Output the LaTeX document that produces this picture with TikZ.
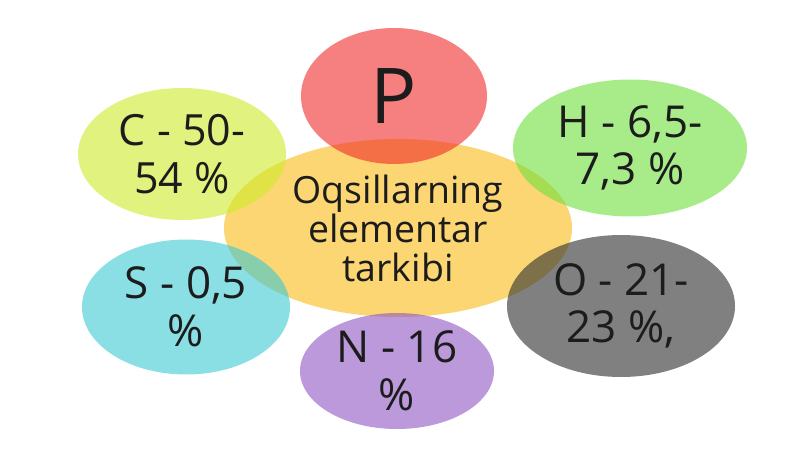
\documentclass[tikz,border=0pt]{standalone}
\usepackage{fontspec}
\setmainfont{Open Sans}
\usetikzlibrary{shapes.geometric}
\definecolor{cyel}{RGB}{251,214,114}
\definecolor{cred}{RGB}{240,42,42}
\definecolor{clime}{RGB}{205,236,40}
\definecolor{cgreen}{RGB}{110,224,60}
\definecolor{ccyan}{RGB}{60,202,212}
\definecolor{cgray}{RGB}{44,44,44}
\definecolor{cpurple}{RGB}{142,85,196}
\definecolor{ctext}{RGB}{28,28,28}
\begin{document}
\begin{tikzpicture}[x=1pt,y=-1pt,
  blob/.style={ellipse,inner sep=0pt,draw=none,fill opacity=0.6},
  lbl/.style={inner sep=0pt,align=center,text=ctext,font=\fontsize{44}{47.5}\selectfont},
  midlbl/.style={lbl,font=\fontsize{37.5}{39}\selectfont}]
\useasboundingbox[fill=white] (0,0) rectangle (800,449);
\node[blob,fill=cyel,fill opacity=1,minimum width=348pt,minimum height=178pt] (center) at (398,228) {};
\node[blob,fill=cred,minimum width=186pt,minimum height=136pt] (p) at (394,96) {};
\node[blob,fill=clime,minimum width=208pt,minimum height=132pt] (c) at (182,154) {};
\node[blob,fill=cgreen,minimum width=234pt,minimum height=137pt] (h) at (630,148) {};
\node[blob,fill=ccyan,minimum width=208pt,minimum height=135pt] (s) at (186,307) {};
\node[blob,fill=cgray,minimum width=228pt,minimum height=142pt] (o) at (621,306) {};
\node[blob,fill=cpurple,minimum width=194pt,minimum height=116pt] (n) at (397,371) {};
\node[midlbl] (centert) at (center) {Oqsillarning\\elementar\\tarkibi};
\node[lbl,font=\fontsize{77}{80}\selectfont] (pt) at (p) {P};
\node[lbl,font=\fontsize{43}{47.5}\selectfont] (ct) at (c) {C - 50-\\54 \%};
\node[lbl] (ht) at (h) {H - 6,5-\\7,3 \%};
\node[lbl] (st) at (s) {S - 0,5\\\%};
\node[lbl] (ot) at (o) {O - 21-\\23 \%,};
\node[lbl] (nt) at (n) {N - 16\\\%};
\end{tikzpicture}
\end{document}
